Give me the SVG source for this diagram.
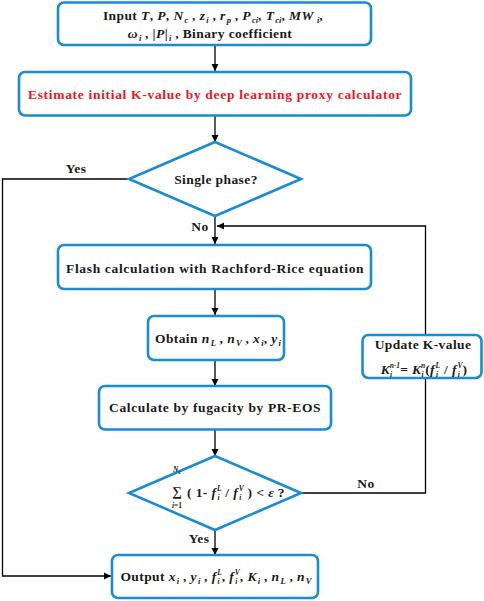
<svg xmlns="http://www.w3.org/2000/svg" width="484" height="601" viewBox="0 0 484 601">
<defs>
<marker id="ah" viewBox="0 0 10 10" refX="10" refY="5" markerWidth="7" markerHeight="8" markerUnits="userSpaceOnUse" orient="auto"><path d="M0,0 L10,5 L0,10 z" fill="#000"/></marker>
<style>
.box{fill:#fff;stroke:#1a8cd2;stroke-width:2.6}
.ln{fill:none;stroke:#000;stroke-width:1.3}
.t{font-family:"Liberation Serif","Times New Roman",serif;font-weight:bold;font-size:13.5px;letter-spacing:0.4px;fill:#1a1a1a}
.i{font-style:italic}
.s{font-size:8.5px;letter-spacing:0}
.u{font-size:7.5px;letter-spacing:0}
.red{fill:#f0141e}
</style>
</defs>
<g id="connectors">
<line class="ln" x1="215" y1="46" x2="215" y2="71" marker-end="url(#ah)"/>
<line class="ln" x1="215" y1="116" x2="215" y2="142" marker-end="url(#ah)"/>
<line class="ln" x1="215" y1="216" x2="215" y2="244" marker-end="url(#ah)"/>
<line class="ln" x1="215" y1="290" x2="215" y2="315" marker-end="url(#ah)"/>
<line class="ln" x1="215" y1="361" x2="215" y2="386" marker-end="url(#ah)"/>
<line class="ln" x1="215" y1="430" x2="215" y2="456" marker-end="url(#ah)"/>
<line class="ln" x1="215" y1="530" x2="215" y2="555" marker-end="url(#ah)"/>
<polyline class="ln" points="129,179 2.5,179 2.5,576 111,576" marker-end="url(#ah)"/>
<polyline class="ln" points="301,493 425.5,493 425.5,226 217,226" marker-end="url(#ah)"/>
<text class="t" x="76" y="173" text-anchor="middle">Yes</text>
<text class="t" x="200" y="231" text-anchor="middle">No</text>
<text class="t" x="366" y="488" text-anchor="middle">No</text>
<text class="t" x="199" y="543" text-anchor="middle">Yes</text>
</g>
<g id="input">
<rect class="box" x="58" y="2.5" width="313" height="42.5" rx="6"/>
<text class="t" x="213" y="20" text-anchor="middle">Input <tspan class="i">T</tspan>, <tspan class="i">P</tspan>, <tspan class="i">N<tspan class="s" dx="1" dy="3">c</tspan></tspan><tspan dy="-3"> , </tspan><tspan class="i">z<tspan class="s" dx="1" dy="3">i</tspan></tspan><tspan dy="-3"> , </tspan><tspan class="i">r<tspan class="s" dx="1" dy="3">p</tspan></tspan><tspan dy="-3"> , </tspan><tspan class="i">P<tspan class="s" dx="1" dy="3">ci</tspan></tspan><tspan dy="-3">, </tspan><tspan class="i">T<tspan class="s" dx="1" dy="3">ci</tspan></tspan><tspan dy="-3">, </tspan><tspan class="i">MW<tspan class="s" dx="1" dy="3"> i</tspan></tspan><tspan dy="-3">,</tspan></text>
<text class="t" x="210" y="38" text-anchor="middle"><tspan class="i">ω<tspan class="s" dx="1" dy="3">i</tspan></tspan><tspan dy="-3"> , |</tspan><tspan class="i">P</tspan>|<tspan class="s i" dx="1" dy="3">i</tspan><tspan dy="-3"> , Binary coefficient</tspan></text>
</g>
<g id="estimate">
<rect class="box" x="19" y="72" width="392" height="43.5" rx="6"/>
<text class="t red" x="215" y="99" text-anchor="middle" textLength="374" lengthAdjust="spacing">Estimate initial K-value by deep learning proxy calculator</text>
</g>
<g id="single">
<polygon class="box" points="215,142 301,179 215,216 129,179"/>
<text class="t" x="216" y="183.5" text-anchor="middle">Single phase?</text>
</g>
<g id="flash">
<rect class="box" x="58" y="245" width="313" height="44" rx="6"/>
<text class="t" x="215" y="273" text-anchor="middle" textLength="298" lengthAdjust="spacing">Flash calculation with Rachford-Rice equation</text>
</g>
<g id="obtain">
<rect class="box" x="148" y="316" width="136" height="44" rx="6"/>
<text class="t" x="218" y="343" text-anchor="middle">Obtain <tspan class="i">n<tspan class="s" dx="1" dy="3">L</tspan></tspan><tspan dy="-3"> , </tspan><tspan class="i">n<tspan class="s" dx="1" dy="3">V</tspan></tspan><tspan dy="-3"> , </tspan><tspan class="i">x<tspan class="s" dx="1" dy="3">i</tspan></tspan><tspan dy="-3">,  </tspan><tspan class="i">y<tspan class="s" dx="1" dy="3">i</tspan></tspan></text>
</g>
<g id="update">
<rect class="box" x="362.5" y="335" width="119" height="43" rx="6"/>
<text class="t" x="423" y="349" text-anchor="middle">Update K-value</text>
<text class="t" x="424" y="374" text-anchor="middle"><tspan class="i">K<tspan class="u" dy="3">i</tspan><tspan class="u" dx="-2.5" dy="-9">n-1</tspan></tspan><tspan dy="6">= </tspan><tspan class="i">K<tspan class="u" dy="3">i</tspan><tspan class="u" dx="-2.5" dy="-9">n</tspan></tspan><tspan dy="6">(</tspan><tspan class="i">f<tspan class="u" dx="1" dy="3">i</tspan><tspan class="u" dx="-2.5" dy="-9">L</tspan></tspan><tspan dy="6"> / </tspan><tspan class="i">f<tspan class="u" dx="1" dy="3">i</tspan><tspan class="u" dx="-2.5" dy="-9">V</tspan></tspan><tspan dy="6">)</tspan></text>
</g>
<g id="fugacity">
<rect class="box" x="99" y="386" width="232" height="43.5" rx="6"/>
<text class="t" x="215" y="412" text-anchor="middle" textLength="212" lengthAdjust="spacing">Calculate by fugacity by PR-EOS</text>
</g>
<g id="converge">
<polygon class="box" points="215,456 301,493 215,530 129,493"/>
<text class="t" x="177" y="496" text-anchor="middle" font-size="17">∑</text>
<text class="t i u" x="177" y="472" text-anchor="middle">N<tspan dy="2" font-size="5.5">c</tspan></text>
<text class="t u" x="177" y="508" text-anchor="middle"><tspan class="i">i</tspan>=1</text>
<text class="t" x="187" y="497">( 1- <tspan class="i">f<tspan class="u" dx="1" dy="3">i</tspan><tspan class="u" dx="-2.5" dy="-9">L</tspan></tspan><tspan dy="6"> / </tspan><tspan class="i">f<tspan class="u" dx="1" dy="3">i</tspan><tspan class="u" dx="-2.5" dy="-9">V</tspan></tspan><tspan dy="6"> ) &lt; </tspan><tspan class="i">ε</tspan> ?</text>
</g>
<g id="output">
<rect class="box" x="112" y="555" width="206" height="43" rx="6"/>
<text class="t" x="216" y="581" text-anchor="middle">Output <tspan class="i">x<tspan class="s" dx="1" dy="3">i</tspan></tspan><tspan dy="-3"> , </tspan><tspan class="i">y<tspan class="s" dx="1" dy="3">i</tspan></tspan><tspan dy="-3"> , </tspan><tspan class="i">f<tspan class="u" dx="1" dy="3">i</tspan><tspan class="u" dx="-2.5" dy="-9">L</tspan></tspan><tspan dy="6">, </tspan><tspan class="i">f<tspan class="u" dx="1" dy="3">i</tspan><tspan class="u" dx="-2.5" dy="-9">V</tspan></tspan><tspan dy="6">, </tspan><tspan class="i">K<tspan class="s" dx="1" dy="3">i</tspan></tspan><tspan dy="-3"> , </tspan><tspan class="i">n<tspan class="s" dx="1" dy="3">L</tspan></tspan><tspan dy="-3"> , </tspan><tspan class="i">n<tspan class="s" dx="1" dy="3">V</tspan></tspan></text>
</g>
</svg>
